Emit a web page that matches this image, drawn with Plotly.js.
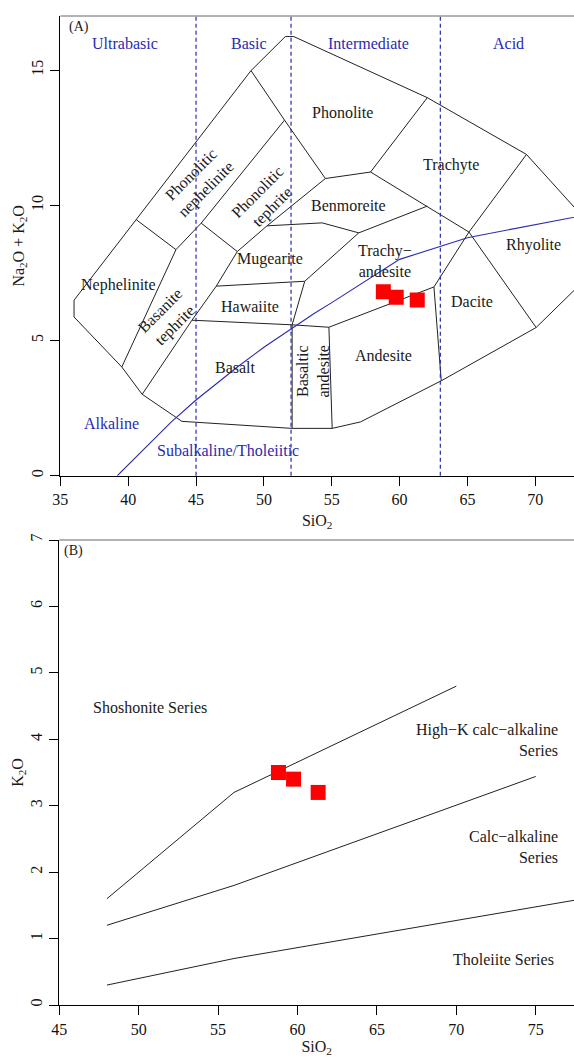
<!DOCTYPE html>
<html>
<head>
<meta charset="utf-8">
<script src="https://cdn.plot.ly/plotly-3.0.1.min.js"></script>
<style>html,body{margin:0;padding:0;background:#fff}</style>
</head>
<body>
<div id="chart" style="width:574px;height:1057px"></div>
<script>
// Sample compositions (wt%)
const sampleSiO2 = [58.8, 59.75, 61.3];
const sampleAlkalis = [6.8, 6.6, 6.5];
const sampleK2O = [3.5, 3.4, 3.2];

// TAS field boundaries (SiO2, Na2O+K2O)
const outerX = [36.01, 39.53, 41.03, 43.96, 52.08, 55.03, 57.12, 63.07, 70.06, 75.8, 69.35, 62.04, 52.2, 51.58, 49.05, 40.59, 36.01, 36.01];
const outerY = [5.87, 4.02, 3.01, 2.01, 1.75, 1.75, 1.99, 3.51, 5.48, 8.3, 11.88, 13.98, 16.24, 16.24, 14.98, 9.47, 6.49, 5.87];
const nephTopX = [40.59, 43.52];
const nephTopY = [9.47, 8.36];
const basaniteLeftX = [51.52, 45.38, 43.52, 39.53];
const basaniteLeftY = [13.15, 9.34, 8.36, 4.02];
const phonoliteLeftX = [49.05, 51.52, 54.53];
const phonoliteLeftY = [14.98, 13.15, 10.99];
const tephriteBaseX = [45.38, 48.04];
const tephriteBaseY = [9.34, 8.29];
const basaniteRightX = [54.53, 50.23, 48.04, 46.49, 44.70, 41.03];
const basaniteRightY = [10.99, 9.24, 8.29, 7.01, 5.75, 3.01];
const benmoreiteBaseX = [50.23, 54.29, 56.99, 62.04];
const benmoreiteBaseY = [9.24, 9.35, 8.98, 9.97];
const phonoliteBaseX = [54.53, 57.86, 62.04];
const phonoliteBaseY = [10.99, 11.23, 13.98];
const trachyteBaseX = [57.86, 65.11, 70.06];
const trachyteBaseY = [11.23, 9.01, 5.48];
const rhyoliteLeftX = [69.35, 65.11, 62.53, 63.07];
const rhyoliteLeftY = [11.88, 9.01, 6.98, 3.51];
const andesiteTopX = [62.53, 54.79, 52.08];
const andesiteTopY = [6.98, 5.49, 5.58];
const andesiteLeftX = [54.79, 55.03];
const andesiteLeftY = [5.49, 1.75];
const basaltRightX = [52.08, 52.08];
const basaltRightY = [5.58, 1.75];
const trachyandesiteLeftX = [56.99, 53.01, 52.08];
const trachyandesiteLeftY = [8.98, 7.19, 5.58];
const hawaiiteTopX = [46.49, 53.01];
const hawaiiteTopY = [7.01, 7.19];
const basaltTopX = [44.70, 52.08];
const basaltTopY = [5.75, 5.58];

// Alkaline / subalkaline divide
const divideX = [39.2, 40, 43.2, 45, 48, 50, 53.7, 55, 60, 65, 77.4];
const divideY = [0, 0.4, 2, 2.8, 4, 4.75, 6, 6.4, 8, 8.8, 10];

// Silica classes
const silicaLimits = [45, 52, 63];
const silicaClasses = ['Ultrabasic', 'Basic', 'Intermediate', 'Acid'];
const silicaClassX = [39.8, 48.9, 57.7, 68.06];

// Rock names
const rockNames = ['Phonolite', 'Trachyte', 'Benmoreite', 'Rhyolite', 'Trachy\u2212<br>andesite', 'Dacite', 'Andesite',
  'Mugearite', 'Hawaiite', 'Basalt', 'Nephelinite'];
const rockX = [55.81, 63.81, 56.25, 69.9, 58.9, 65.36, 58.84, 50.48, 48.95, 47.89, 39.28];
const rockY = [13.45, 11.5, 10.0, 8.52, 7.95, 6.45, 4.46, 8.0, 6.24, 3.99, 7.04];
const slantNames = ['Phonolitic<br>nephelinite', 'Phonolitic<br>tephrite', 'Basanite<br>tephrite'];
const slantX = [45.16, 50.1, 42.88];
const slantY = [10.86, 10.22, 5.83];

// K2O vs SiO2 series boundaries
const shoshoniteX = [48, 56, 70];
const shoshoniteY = [1.6, 3.2, 4.8];
const highKX = [48, 56, 75];
const highKY = [1.2, 1.8, 3.44];
const calcAlkX = [48, 56, 78];
const calcAlkY = [0.3, 0.7, 1.6];
const seriesNames = ['High\u2212K calc\u2212alkaline<br>Series', 'Calc\u2212alkaline<br>Series', 'Tholeiite Series'];
const seriesX = [76.5, 76.55, 76.3];
const seriesY = [3.99, 2.38, 0.68];

const serif = '"Liberation Serif", "Times New Roman", Times, serif';
const blue = '#2a2ab0';
const ink = '#1a1a1a';

function boundary(x, y, xa, ya) {
  return {x: x, y: y, xaxis: xa, yaxis: ya, mode: 'lines', type: 'scatter',
    line: {color: '#222', width: 1}, hoverinfo: 'skip', showlegend: false};
}

const tasLines = [
  [outerX, outerY], [nephTopX, nephTopY], [basaniteLeftX, basaniteLeftY], [phonoliteLeftX, phonoliteLeftY],
  [tephriteBaseX, tephriteBaseY], [basaniteRightX, basaniteRightY], [benmoreiteBaseX, benmoreiteBaseY],
  [phonoliteBaseX, phonoliteBaseY], [trachyteBaseX, trachyteBaseY], [rhyoliteLeftX, rhyoliteLeftY],
  [andesiteTopX, andesiteTopY], [andesiteLeftX, andesiteLeftY], [basaltRightX, basaltRightY],
  [trachyandesiteLeftX, trachyandesiteLeftY], [hawaiiteTopX, hawaiiteTopY], [basaltTopX, basaltTopY]
];

const traces = tasLines.map(p => boundary(p[0], p[1], 'x', 'y'));
traces.push({x: divideX, y: divideY, xaxis: 'x', yaxis: 'y', mode: 'lines', type: 'scatter',
  line: {color: blue, width: 1.1}, hoverinfo: 'skip', showlegend: false});
traces.push({x: sampleSiO2, y: sampleAlkalis, xaxis: 'x', yaxis: 'y', mode: 'markers', type: 'scatter',
  marker: {symbol: 'square', size: 15, color: '#ff0000'}, showlegend: false});

[[shoshoniteX, shoshoniteY], [highKX, highKY], [calcAlkX, calcAlkY]].forEach(p => traces.push(boundary(p[0], p[1], 'x2', 'y2')));
traces.push({x: sampleSiO2, y: sampleK2O, xaxis: 'x2', yaxis: 'y2', mode: 'markers', type: 'scatter',
  marker: {symbol: 'square', size: 15, color: '#ff0000'}, showlegend: false});

const annotations = [];
function label(text, x, y, xr, yr, opts) {
  annotations.push(Object.assign({text: text, x: x, y: y, xref: xr, yref: yr, showarrow: false,
    font: {family: serif, size: 16, color: ink}}, opts || {}));
}
silicaClasses.forEach((t, i) => label(t, silicaClassX[i], 15.97, 'x', 'y', {font: {family: serif, size: 16, color: blue}}));
rockNames.forEach((t, i) => label(t, rockX[i], rockY[i], 'x', 'y'));
slantNames.forEach((t, i) => label(t, slantX[i], slantY[i], 'x', 'y', {textangle: -45}));
label('Basaltic<br>andesite', 53.65, 3.87, 'x', 'y', {textangle: -90});
label('Alkaline', 38.79, 1.94, 'x', 'y', {font: {family: serif, size: 16, color: blue}});
label('Subalkaline/Tholeiitic', 47.38, 0.95, 'x', 'y', {font: {family: serif, size: 16, color: blue}});
label('(A)', 35.5, 16.6, 'x', 'y', {xanchor: 'left', font: {family: serif, size: 14, color: ink}});

label('(B)', 45.2, 6.84, 'x2', 'y2', {xanchor: 'left', font: {family: serif, size: 14, color: ink}});
label('Shoshonite Series', 50.72, 4.48, 'x2', 'y2');
seriesNames.forEach((t, i) => label(t, seriesX[i], seriesY[i], 'x2', 'y2', {xanchor: 'right', align: 'right'}));

const shapes = silicaLimits.map(v => ({type: 'line', xref: 'x', yref: 'y domain', x0: v, x1: v, y0: 0, y1: 1,
  line: {color: blue, width: 1.2, dash: '4px,3px'}}));
shapes.push({type: 'line', xref: 'x domain', yref: 'y domain', x0: 0, x1: 1, y0: 1, y1: 1, line: {color: '#666', width: 1}});
shapes.push({type: 'line', xref: 'x2 domain', yref: 'y2 domain', x0: 0, x1: 1, y0: 1, y1: 1, line: {color: '#666', width: 1}});

function axisStyle(extra) {
  return Object.assign({ticks: 'outside', ticklen: 9, tickwidth: 1, tickcolor: '#000', showline: true,
    linecolor: '#000', linewidth: 1.5, showgrid: false, zeroline: false,
    tickfont: {family: serif, size: 16, color: '#111'}}, extra);
}

const layout = {
  width: 574, height: 1057, margin: {l: 0, r: 0, t: 0, b: 0},
  paper_bgcolor: '#fff', plot_bgcolor: '#fff', showlegend: false,
  font: {family: serif, size: 16, color: ink},
  xaxis: axisStyle({domain: [0.1051, 1], range: [35, 72.85], tickvals: [35, 40, 45, 50, 55, 60, 65, 70], anchor: 'y',
    title: {text: 'SiO<sub>2</sub>', standoff: 7, font: {family: serif, size: 16, color: ink}}}),
  yaxis: axisStyle({domain: [0.54995, 0.98486], range: [0, 17], tickvals: [0, 5, 10, 15], tickangle: -90, anchor: 'x',
    title: {text: 'Na<sub>2</sub>O + K<sub>2</sub>O', standoff: 1, font: {family: serif, size: 16, color: ink}}}),
  xaxis2: axisStyle({domain: [0.1033, 1], range: [45, 77.41], tickvals: [45, 50, 55, 60, 65, 70, 75], anchor: 'y2',
    title: {text: 'SiO<sub>2</sub>', standoff: 9, font: {family: serif, size: 16, color: ink}}}),
  yaxis2: axisStyle({domain: [0.0492, 0.48912], range: [0, 7], tickvals: [0, 1, 2, 3, 4, 5, 6, 7], tickangle: -90, anchor: 'x2',
    title: {text: 'K<sub>2</sub>O', standoff: 1, font: {family: serif, size: 16, color: ink}}}),
  annotations: annotations,
  shapes: shapes
};

Plotly.newPlot('chart', traces, layout, {staticPlot: true, displayModeBar: false});
</script>
</body>
</html>
